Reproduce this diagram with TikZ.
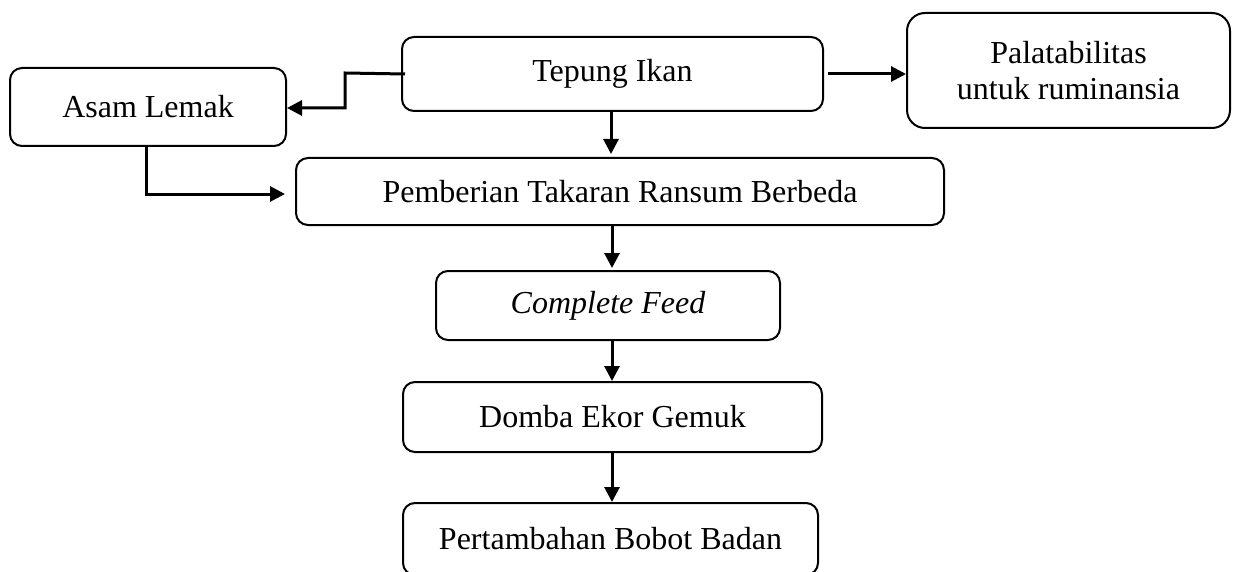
\documentclass[tikz,border=0pt]{standalone}
\usepackage{fontspec}
\setmainfont{Liberation Serif}
\usetikzlibrary{arrows.meta}
\begin{document}
\begin{tikzpicture}[x=1pt,y=-1pt,
  box/.style={draw=black, line width=2pt, rounded corners=12pt, inner sep=0pt, align=center,
    font=\fontsize{32}{36}\selectfont},
  conn/.style={line width=3pt, -{Triangle[length=15pt,width=15pt]}}]
\useasboundingbox (0,0) rectangle (1238,572);
\clip (0,0) rectangle (1238,572);
\node[box, minimum width=421pt, minimum height=74pt] (tepung) at (612.5,74) {Tepung Ikan};
\node[box, minimum width=323pt, minimum height=115pt, rounded corners=18pt] (pala) at (1068.5,70.5) {Palatabilitas\\untuk ruminansia};
\node[box, minimum width=276pt, minimum height=78pt] (asam) at (148,107) {Asam Lemak};
\node[box, minimum width=648pt, minimum height=67pt] (pemb) at (620,191.5) {Pemberian Takaran Ransum Berbeda};
\node[box, minimum width=344pt, minimum height=69pt] (cf) at (608,305.5) {\itshape Complete Feed};
\node[box, minimum width=419pt, minimum height=70pt] (domba) at (612.5,417) {Domba Ekor Gemuk};
\node[box, minimum width=415pt, minimum height=72pt] (pert) at (610.5,539) {Pertambahan Bobot Badan};
% Tepung -> Palatabilitas
\draw[conn] ([xshift=4pt]tepung.east) -- (pala.west |- tepung.east);
% Tepung -> Asam Lemak
\coordinate (t1) at (345,73);
\coordinate (t2) at (345,108);
\draw[conn] ([xshift=4pt]tepung.west) -- (t1) -- (t2) -- (asam.east |- t2);
% Asam -> Pemberian
\coordinate (a1) at (146,194);
\draw[conn, shorten >=10pt] (asam.south -| a1) -- (a1) -- (pemb.west |- a1);
% vertical chain
\draw[conn, shorten >=4pt] (611,111) -- (611,158);
\draw[conn, shorten >=3pt] (612,225) -- (612,271);
\draw[conn, shorten >=1pt] (612,340) -- (612,382);
\draw[conn, shorten >=1pt] (612,452) -- (612,503);
\end{tikzpicture}
\end{document}
